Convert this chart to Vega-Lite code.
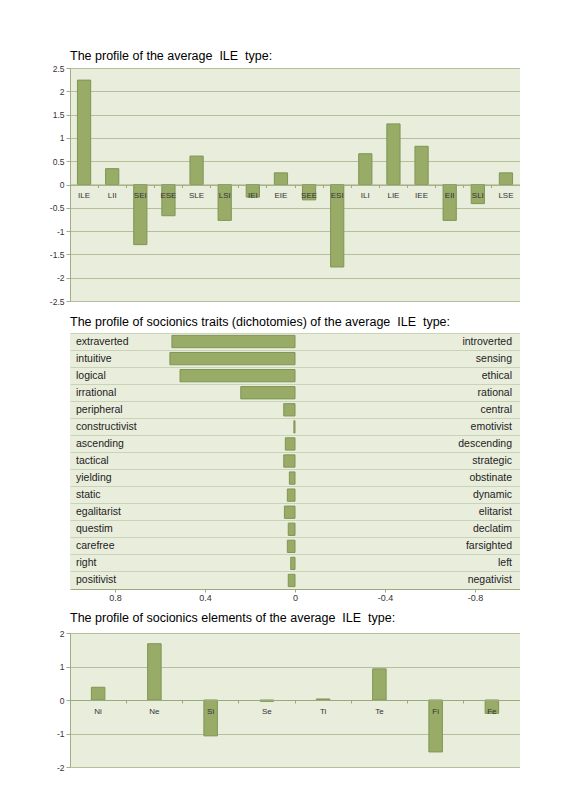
{
  "$schema": "https://vega.github.io/schema/vega-lite/v6.json",
  "padding": {"left": 49, "top": 49, "right": 0, "bottom": 0},
  "background": "white",
  "spacing": 9,
  "config": {
    "view": {"fill": "#e9eddc", "stroke": null},
    "title": {"anchor": "start", "frame": "group", "font": "Liberation Sans", "fontSize": 12.5, "fontWeight": "normal", "color": "#000000", "offset": 6},
    "axis": {"labelFont": "Liberation Sans", "labelColor": "#333333", "titleFont": "Liberation Sans"}
  },
  "vconcat": [
    {
      "title": {"text": "The profile of the average\u00a0 ILE\u00a0 type:", "offset": 2},
      "width": 450,
      "height": 233,
      "data": {"values": [
        {"type": "ILE", "value": 2.24},
        {"type": "LII", "value": 0.34},
        {"type": "SEI", "value": -1.29},
        {"type": "ESE", "value": -0.67},
        {"type": "SLE", "value": 0.61},
        {"type": "LSI", "value": -0.77},
        {"type": "IEI", "value": -0.27},
        {"type": "EIE", "value": 0.25},
        {"type": "SEE", "value": -0.33},
        {"type": "ESI", "value": -1.77},
        {"type": "ILI", "value": 0.66},
        {"type": "LIE", "value": 1.3},
        {"type": "IEE", "value": 0.82},
        {"type": "EII", "value": -0.77},
        {"type": "SLI", "value": -0.41},
        {"type": "LSE", "value": 0.25}
      ]},
      "mark": {"type": "bar", "width": {"band": 0.47}, "color": "#98ac68", "stroke": "#7f9555", "strokeWidth": 1},
      "encoding": {
        "x": {"field": "type", "type": "nominal", "sort": null,
          "scale": {"paddingInner": 0, "paddingOuter": 0},
          "axis": {"title": null, "labelAngle": 0, "bandPosition": 0, "offset": -116.5,
            "domainColor": "#9aaa7a", "tickColor": "#9aaa7a", "tickSize": 3, "labelPadding": 4,
            "labelFontSize": 8, "labelColor": "#333333", "zindex": 1}},
        "y": {"field": "value", "type": "quantitative",
          "scale": {"domain": [-2.5, 2.5], "nice": false},
          "axis": {"title": null, "values": [-2.5, -2, -1.5, -1, -0.5, 0, 0.5, 1, 1.5, 2, 2.5], "labelExpr": "'' + datum.value",
            "grid": true, "gridColor": "#b5bf9c", "domainColor": "#a0ae82", "tickColor": "#a0ae82", "tickSize": 4,
            "labelFontSize": 8.5, "labelPadding": 2}}
      }
    },
    {
      "title": {"text": "The profile of socionics traits (dichotomies) of the average\u00a0 ILE\u00a0 type:", "offset": 5},
      "width": 450,
      "height": 256,
      "data": {"values": [
        {"left": "extraverted", "right": "introverted", "value": 0.547},
        {"left": "intuitive", "right": "sensing", "value": 0.556},
        {"left": "logical", "right": "ethical", "value": 0.511},
        {"left": "irrational", "right": "rational", "value": 0.241},
        {"left": "peripheral", "right": "central", "value": 0.05},
        {"left": "constructivist", "right": "emotivist", "value": 0.005},
        {"left": "ascending", "right": "descending", "value": 0.043},
        {"left": "tactical", "right": "strategic", "value": 0.05},
        {"left": "yielding", "right": "obstinate", "value": 0.025},
        {"left": "static", "right": "dynamic", "value": 0.034},
        {"left": "egalitarist", "right": "elitarist", "value": 0.047},
        {"left": "questim", "right": "declatim", "value": 0.03},
        {"left": "carefree", "right": "farsighted", "value": 0.034},
        {"left": "right", "right": "left", "value": 0.019},
        {"left": "positivist", "right": "negativist", "value": 0.03}
      ]},
      "encoding": {
        "y": {"field": "left", "type": "nominal", "sort": null,
          "scale": {"paddingInner": 0, "paddingOuter": 0},
          "axis": {"title": null, "labels": false, "ticks": false, "domain": false, "grid": true, "bandPosition": 0, "gridColor": "#cad2b8"}}
      },
      "layer": [
        {
          "mark": {"type": "bar", "height": {"band": 0.72}, "color": "#98ac68", "stroke": "#7f9555", "strokeWidth": 1},
          "encoding": {
            "x": {"field": "value", "type": "quantitative",
              "scale": {"domain": [-1, 1], "reverse": true, "nice": false},
              "axis": {"title": null, "values": [0.8, 0.4, 0, -0.4, -0.8], "labelExpr": "'' + datum.value", "grid": false,
                "domainColor": "#9aaa7a", "tickColor": "#9aaa7a", "tickSize": 3, "labelFontSize": 9, "labelPadding": 1}}
          }
        },
        {
          "mark": {"type": "rule", "color": "#9aaa7a", "strokeWidth": 1.5},
          "encoding": {"x": {"datum": 0}}
        },
        {
          "mark": {"type": "text", "align": "left", "dx": 6, "font": "Liberation Sans", "fontSize": 10.5, "color": "#222222"},
          "encoding": {"x": {"datum": 1}, "text": {"field": "left"}}
        },
        {
          "mark": {"type": "text", "align": "right", "dx": -8, "font": "Liberation Sans", "fontSize": 10.5, "color": "#222222"},
          "encoding": {"x": {"datum": -1}, "text": {"field": "right"}}
        }
      ]
    },
    {
      "title": {"text": "The profile of socionics elements of the average\u00a0 ILE\u00a0 type:", "offset": 5},
      "width": 450,
      "height": 134,
      "data": {"values": [
        {"element": "Ni", "value": 0.38},
        {"element": "Ne", "value": 1.68},
        {"element": "Si", "value": -1.07},
        {"element": "Se", "value": -0.04},
        {"element": "Ti", "value": 0.03},
        {"element": "Te", "value": 0.93},
        {"element": "Fi", "value": -1.55},
        {"element": "Fe", "value": -0.4}
      ]},
      "mark": {"type": "bar", "width": {"band": 0.24}, "color": "#98ac68", "stroke": "#7f9555", "strokeWidth": 1},
      "encoding": {
        "x": {"field": "element", "type": "nominal", "sort": null,
          "scale": {"paddingInner": 0, "paddingOuter": 0},
          "axis": {"title": null, "labelAngle": 0, "bandPosition": 0, "offset": -67,
            "domainColor": "#9aaa7a", "tickColor": "#9aaa7a", "tickSize": 3, "labelPadding": 4,
            "labelFontSize": 8, "labelColor": "#333333", "zindex": 1}},
        "y": {"field": "value", "type": "quantitative",
          "scale": {"domain": [-2, 2], "nice": false},
          "axis": {"title": null, "values": [-2, -1, 0, 1, 2], "labelExpr": "'' + datum.value",
            "grid": true, "gridColor": "#b5bf9c", "domainColor": "#a0ae82", "tickColor": "#a0ae82", "tickSize": 4,
            "labelFontSize": 8.5, "labelPadding": 2}}
      }
    }
  ],
  "resolve": {"scale": {"x": "independent", "y": "independent"}}
}
